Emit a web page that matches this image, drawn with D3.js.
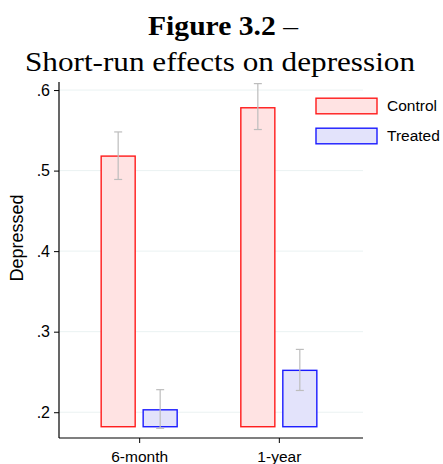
<!DOCTYPE html>
<html>
<head>
<meta charset="utf-8">
<script src="https://cdn.jsdelivr.net/npm/d3@7"></script>
<style>
  html, body { margin: 0; padding: 0; background: #fff; }
  svg { display: block; }
</style>
</head>
<body>
<svg id="chart" width="443" height="464"></svg>
<script>
// ---- Data ----
const categories = ['6-month', '1-year'];
const seriesNames = ['Control', 'Treated'];
const controlMeans = [0.518, 0.578];
const controlLow = [0.489, 0.551];
const controlHigh = [0.548, 0.608];
const treatedMeans = [0.203, 0.252];
const treatedLow = [0.180, 0.227];
const treatedHigh = [0.228, 0.278];
const yTickValues = [0.2, 0.3, 0.4, 0.5, 0.6];
const yTickLabels = ['.2', '.3', '.4', '.5', '.6'];
const barBase = 0.182;
const yDomain = [0.168, 0.61];

const seriesStyle = {
  Control: { fill: '#ffe3e3', stroke: '#ff1a1a' },
  Treated: { fill: '#e3e3fb', stroke: '#1a1aff' }
};

const rows = [];
categories.forEach((c, i) => {
  rows.push({ cat: c, series: 'Control', mean: controlMeans[i], lo: controlLow[i], hi: controlHigh[i] });
  rows.push({ cat: c, series: 'Treated', mean: treatedMeans[i], lo: treatedLow[i], hi: treatedHigh[i] });
});

// ---- Layout ----
const plot = { left: 59, right: 363, top: 82, bottom: 438 };
const svg = d3.select('#chart');

const y = d3.scaleLinear().domain(yDomain).range([plot.bottom, plot.top]);
const x = d3.scalePoint().domain(categories).range([plot.left, 359]).padding(0.574);
const xs = d3.scaleBand().domain(seriesNames).range([-38, 38]).paddingInner(0.19);

// Title
const title = svg.append('g').attr('font-family', '"Liberation Serif", serif').attr('fill', '#000');
const t1 = title.append('text').attr('x', 223).attr('y', 35).attr('text-anchor', 'middle')
  .attr('font-size', 28).attr('textLength', 150).attr('lengthAdjust', 'spacingAndGlyphs');
t1.append('tspan').attr('font-weight', 'bold').text('Figure 3.2');
t1.append('tspan').text(' –');
title.append('text').attr('x', 220).attr('y', 71).attr('text-anchor', 'middle')
  .attr('font-size', 28).attr('textLength', 390).attr('lengthAdjust', 'spacingAndGlyphs')
  .text('Short-run effects on depression');

// Gridlines
svg.append('g').selectAll('line').data(yTickValues).join('line')
  .attr('x1', plot.left).attr('x2', plot.right)
  .attr('y1', d => y(d)).attr('y2', d => y(d))
  .attr('stroke', '#eaf2f2').attr('stroke-width', 1);

// Bars
svg.append('g').selectAll('rect').data(rows).join('rect')
  .attr('x', d => x(d.cat) + xs(d.series))
  .attr('width', xs.bandwidth())
  .attr('y', d => y(d.mean))
  .attr('height', d => y(barBase) - y(d.mean))
  .attr('fill', d => seriesStyle[d.series].fill)
  .attr('stroke', d => seriesStyle[d.series].stroke)
  .attr('stroke-width', 1.4);

// Error bars
const eb = svg.append('g').attr('stroke', '#bdbdbd').attr('stroke-width', 1.2);
const cx = d => x(d.cat) + xs(d.series) + xs.bandwidth() / 2;
eb.selectAll('line.v').data(rows).join('line').attr('class', 'v')
  .attr('x1', cx).attr('x2', cx).attr('y1', d => y(d.lo)).attr('y2', d => y(d.hi));
eb.selectAll('line.t').data(rows).join('line').attr('class', 't')
  .attr('x1', d => cx(d) - 4).attr('x2', d => cx(d) + 4).attr('y1', d => y(d.hi)).attr('y2', d => y(d.hi));
eb.selectAll('line.b').data(rows).join('line').attr('class', 'b')
  .attr('x1', d => cx(d) - 4).attr('x2', d => cx(d) + 4).attr('y1', d => y(d.lo)).attr('y2', d => y(d.lo));

// Y axis
const yAxis = d3.axisLeft(y).tickValues(yTickValues)
  .tickFormat((d, i) => yTickLabels[i]).tickSize(5).tickPadding(4);
const gy = svg.append('g').attr('transform', `translate(${plot.left},0)`).call(yAxis);
gy.select('.domain').attr('d', `M0,${plot.top}V${plot.bottom}`).attr('stroke', '#000').attr('stroke-width', 1.2);
gy.selectAll('.tick line').attr('stroke', '#000');
gy.selectAll('.tick text').attr('font-family', '"Liberation Sans", Arial, sans-serif').attr('font-size', 16).attr('fill', '#000');

// X axis
const xAxis = d3.axisBottom(x).tickSize(5).tickPadding(8);
const gx = svg.append('g').attr('transform', `translate(0,${plot.bottom})`).call(xAxis);
gx.select('.domain').attr('d', `M${plot.left},0H${plot.right}`).attr('stroke', '#000').attr('stroke-width', 1.2);
gx.selectAll('.tick line').attr('stroke', '#000');
gx.selectAll('.tick text').attr('font-family', '"Liberation Sans", Arial, sans-serif').attr('font-size', 15.5).attr('fill', '#000');

// Y axis title
svg.append('text')
  .attr('transform', `translate(23,238) rotate(-90)`)
  .attr('text-anchor', 'middle')
  .attr('font-family', '"Liberation Sans", Arial, sans-serif')
  .attr('font-size', 18)
  .text('Depressed');

// Legend
const legend = svg.append('g');
const ly = d3.scalePoint().domain(seriesNames).range([106, 136]);
legend.selectAll('rect').data(seriesNames).join('rect')
  .attr('x', 316).attr('y', d => ly(d) - 7.8).attr('width', 61).attr('height', 15.6)
  .attr('fill', d => seriesStyle[d].fill).attr('stroke', d => seriesStyle[d].stroke).attr('stroke-width', 1.4);
legend.selectAll('text').data(seriesNames).join('text')
  .attr('x', 387).attr('y', d => ly(d)).attr('dy', '0.35em')
  .attr('font-family', '"Liberation Sans", Arial, sans-serif').attr('font-size', 15.5)
  .text(d => d);
</script>
</body>
</html>
